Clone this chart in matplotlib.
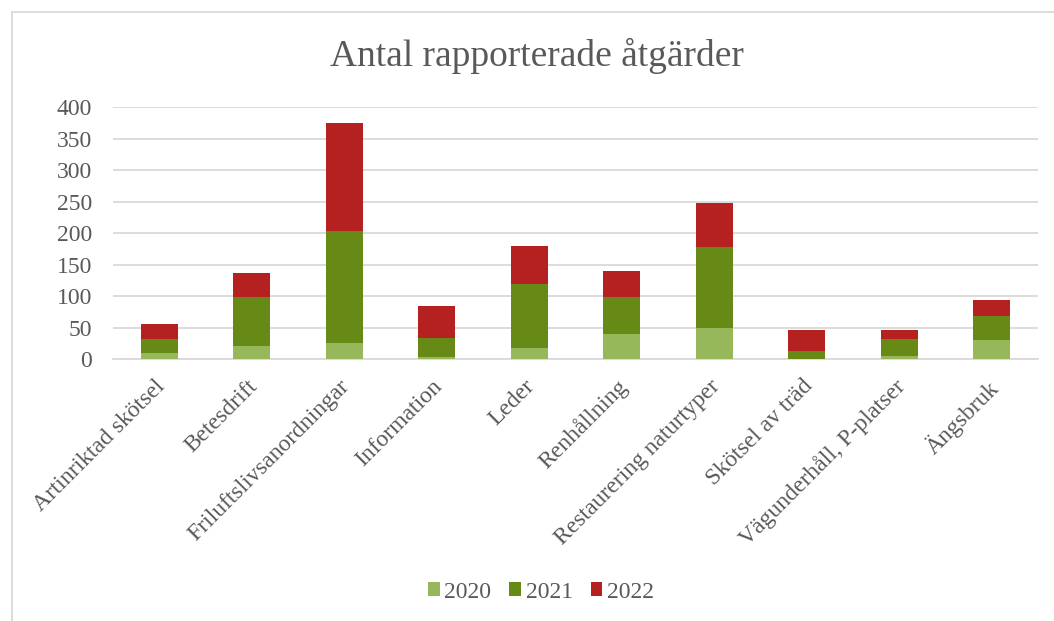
import matplotlib.pyplot as plt
import numpy as np
from matplotlib.patches import Rectangle
from matplotlib.transforms import ScaledTranslation

categories = ["Artinriktad skötsel", "Betesdrift", "Friluftslivsanordningar", "Information",
              "Leder", "Renhållning", "Restaurering naturtyper", "Skötsel av träd",
              "Vägunderhåll, P-platser", "Ängsbruk"]
y2020 = [9, 20, 25, 3, 17, 40, 49, 0, 5, 30]
y2021 = [23, 78, 178, 31, 102, 58, 129, 12, 26, 39]
y2022 = [23, 39, 172, 51, 61, 42, 70, 34, 15, 25]
years = ["2020", "2021", "2022"]
colors = ["#97b85a", "#678a16", "#b52020"]

plt.rcParams['font.family'] = ['Liberation Serif', 'DejaVu Serif']
txt = "#595959"

fig = plt.figure(figsize=(10.54, 6.21), dpi=100)
ax = fig.add_axes([0.1072, 0.4219, 0.8776, 0.4053])

x = np.arange(len(categories))
bottom = np.zeros(len(categories))
for vals, yr, c in zip([y2020, y2021, y2022], years, colors):
    ax.bar(x, vals, 0.4, bottom=bottom, color=c, label=yr, zorder=3)
    bottom += np.array(vals)

ax.set_xlim(-0.5, len(categories) - 0.5)
ax.set_ylim(0, 400)
ax.set_yticks(range(0, 401, 50))
ax.grid(axis='y', color='#d9d9d9', linewidth=1.3, zorder=0)
for s in ['top', 'right', 'left']:
    ax.spines[s].set_visible(False)
ax.spines['bottom'].set_color('#d9d9d9')
ax.spines['bottom'].set_linewidth(1.3)
ax.tick_params(axis='both', length=0, labelsize=17, labelcolor=txt)
ax.tick_params(axis='y', pad=15)
ax.tick_params(axis='x', pad=12)
ax.set_xticks(x)
ax.set_xticklabels(categories, rotation=45, ha='right', rotation_mode='anchor')
shift = ScaledTranslation(-5 / 100, 0, fig.dpi_scale_trans)
for lbl in ax.get_xticklabels():
    lbl.set_transform(lbl.get_transform() + shift)

fig.text(537 / 1054, 0.91, "Antal rapporterade åtgärder", ha='center', va='center',
         fontsize=27, color=txt)

fig.legend(loc='center', bbox_to_anchor=(541 / 1054, 1 - 592 / 621), ncol=3, frameon=False,
           fontsize=17, labelcolor=txt, handlelength=0.5, handleheight=0.5,
           handletextpad=0.2, columnspacing=0.75)

fig.patches.append(Rectangle((12 / 1054, -0.1), 1.2, 1 - 12 / 621 + 0.1, transform=fig.transFigure,
                             fill=False, edgecolor='#d9d9d9', linewidth=1.3))

fig.savefig("out.png", dpi=100)
